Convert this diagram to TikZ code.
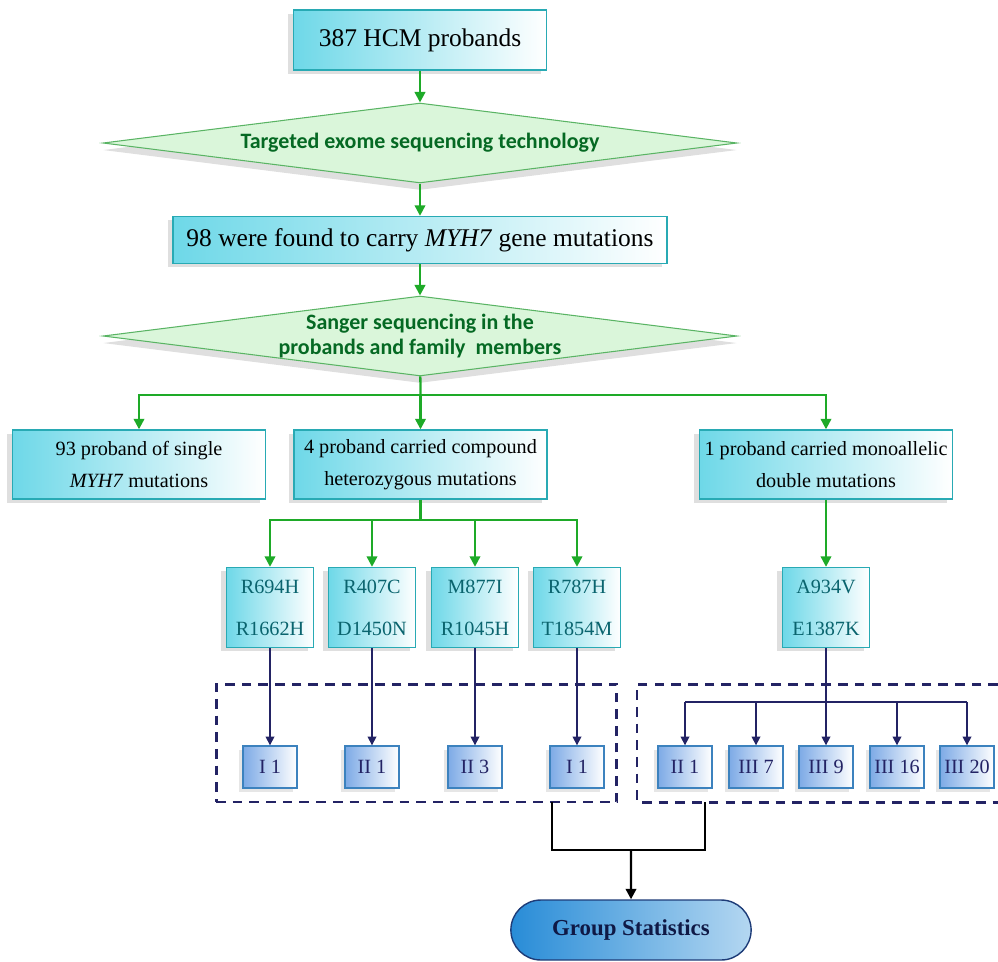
\documentclass[tikz,border=0pt]{standalone}
\usepackage{fontspec}
\setmainfont{Liberation Serif}
\newfontfamily\diafont{Carlito}
\usetikzlibrary{arrows.meta,shapes.geometric,shapes.misc,shadows}

\definecolor{tealline}{RGB}{40,170,180}
\definecolor{cyanfill}{RGB}{110,216,232}
\definecolor{flowgreen}{RGB}{30,170,40}
\definecolor{darkgreen}{RGB}{5,105,35}
\definecolor{diafill}{RGB}{218,246,218}
\definecolor{diaborder}{RGB}{90,180,100}
\definecolor{navy}{RGB}{35,35,100}
\definecolor{mutteal}{RGB}{10,100,110}
\definecolor{smallblue}{RGB}{125,170,230}
\definecolor{smallline}{RGB}{60,130,190}
\definecolor{gsblue}{RGB}{40,140,215}
\definecolor{gsline}{RGB}{30,60,120}
\definecolor{gstext}{RGB}{15,25,70}

\tikzset{
  infobox/.style={draw=tealline, line width=0.8pt, left color=cyanfill, right color=white,
    drop shadow={shadow xshift=-3pt, shadow yshift=-2pt, opacity=0.25}, inner sep=2pt, align=center},
  groupbox/.style={infobox, minimum width=5.06cm, minimum height=1.38cm, font=\fontsize{11.5}{14}\selectfont},
  mutbox/.style={infobox, minimum width=1.74cm, minimum height=1.6cm, text=mutteal, font=\fontsize{11.5}{14}\selectfont},
  member/.style={draw=smallline, line width=0.8pt, left color=smallblue, right color=white,
    drop shadow={shadow xshift=-2pt, shadow yshift=-2pt, opacity=0.2},
    minimum width=1.08cm, minimum height=0.84cm, inner sep=1pt, text=navy, font=\fontsize{11.5}{13}\selectfont},
  decision/.style={diamond, draw=diaborder, fill=diafill, line width=0.6pt, inner sep=0pt,
    minimum width=12.68cm, minimum height=1.6cm,
    drop shadow={shadow xshift=0pt, shadow yshift=-4pt, opacity=0.25}},
  diatext/.style={text=darkgreen, align=center, font=\diafont\bfseries\fontsize{12.5}{14}\selectfont},
  terminal/.style={rounded rectangle, draw=gsline, line width=0.8pt, left color=gsblue, right color=gsblue!35,
    minimum width=5.04cm, minimum height=1.2cm, text=gstext, font=\bfseries\fontsize{13}{15}\selectfont},
  frame/.style={draw=navy, line width=1.7pt, dash pattern=on 5.5pt off 4pt},
  gline/.style={draw=flowgreen, line width=1.3pt},
  garrow/.style={gline, -{Triangle[length=6pt,width=6pt]}},
  nline/.style={draw=navy, line width=0.9pt},
  narrow/.style={nline, -{Triangle[length=5pt,width=5pt]}},
  bline/.style={draw=black, line width=1.3pt},
  barrow/.style={bline, -{Triangle[length=6pt,width=6pt]}}
}

\begin{document}
\begin{tikzpicture}[x=0.02cm, y=-0.02cm]
    \useasboundingbox (0,0) rectangle (998,961);

    \node[infobox, minimum width=5.06cm, minimum height=1.2cm, font=\fontsize{14.5}{17}\selectfont] (top) at (420,40) {387 HCM probands};
    \node[decision, label={[diatext]center:Targeted exome sequencing technology}] (d1) at (420,143) {};
    \node[infobox, minimum width=9.88cm, minimum height=0.94cm, font=\fontsize{14.5}{17}\selectfont] (found) at (420,240) {98 were found to carry \textit{MYH7} gene mutations};
    \node[decision, label={[diatext]center:{Sanger sequencing in the\\probands and family\ \ members}}] (d2) at (420,336) {};
    \coordinate (split) at (420.5,395);

    \node[groupbox] (single) at (139,464.5) {93 proband of single\\[4pt]\textit{MYH7} mutations};
    \node[groupbox] (compound) at (420.5,464.5) {4 proband carried compound\\[4pt]heterozygous mutations};
    \node[groupbox] (mono) at (826,464.5) {1 proband carried monoallelic\\[4pt]double mutations};
    \coordinate (msplit) at (420.5,520);

    \node[mutbox] (m1) at (270,607.5) {R694H\\[10pt]R1662H};
    \node[mutbox] (m2) at (372,607.5) {R407C\\[10pt]D1450N};
    \node[mutbox] (m3) at (475,607.5) {M877I\\[10pt]R1045H};
    \node[mutbox] (m4) at (577,607.5) {R787H\\[10pt]T1854M};
    \node[mutbox] (m5) at (826,607.5) {A934V\\[10pt]E1387K};

    \node[frame, minimum width=8.02cm, minimum height=2.36cm] (leftgrp) at (416.5,743) {};
    \draw[frame] (998,684) -- (637,684) -- (637,802) -- (998,802);

    \node[member] (l1) at (270,767) {I 1};
    \node[member] (l2) at (372,767) {II 1};
    \node[member] (l3) at (475,767) {II 3};
    \node[member] (l4) at (577,767) {I 1};
    \node[member] (r1) at (685,767) {II 1};
    \node[member] (r2) at (756,767) {III 7};
    \node[member] (r3) at (826,767) {III 9};
    \node[member] (r4) at (897,767) {III 16};
    \node[member] (r5) at (967,767) {III 20};
    \coordinate (rsplit) at (826,702);

    \node[terminal] (stats) at (631,930) {Group Statistics};
    \coordinate (gl) at (552,802);
    \coordinate (gr) at (705,802);
    \coordinate (gj) at (631,850);

    \draw[garrow] (top) -- (d1);
    \draw[garrow] (d1) -- (found);
    \draw[garrow] (found) -- (d2);
    \draw[gline] (d2) -- (split);
    \draw[garrow] (split) -| (single);
    \draw[garrow] (split) -- (compound);
    \draw[garrow] (split) -| (mono);
    \draw[gline] (compound) -- (msplit);
    \foreach \m in {m1,m2,m3,m4}
        \draw[garrow] (msplit) -| (\m);
    \draw[garrow] (mono) -- (m5);

    \foreach \a/\b in {m1/l1,m2/l2,m3/l3,m4/l4}
        \draw[narrow] (\a) -- (\b);
    \draw[nline] (m5) -- (rsplit);
    \draw[nline] (r1.north |- rsplit) -- (r5.north |- rsplit);
    \foreach \r in {r1,r2,r3,r4,r5}
        \draw[narrow] (\r.north |- rsplit) -- (\r);

    \draw[bline] (gl) |- (gj) -| (gr);
    \draw[barrow] (gj) -- (stats);
\end{tikzpicture}
\end{document}
